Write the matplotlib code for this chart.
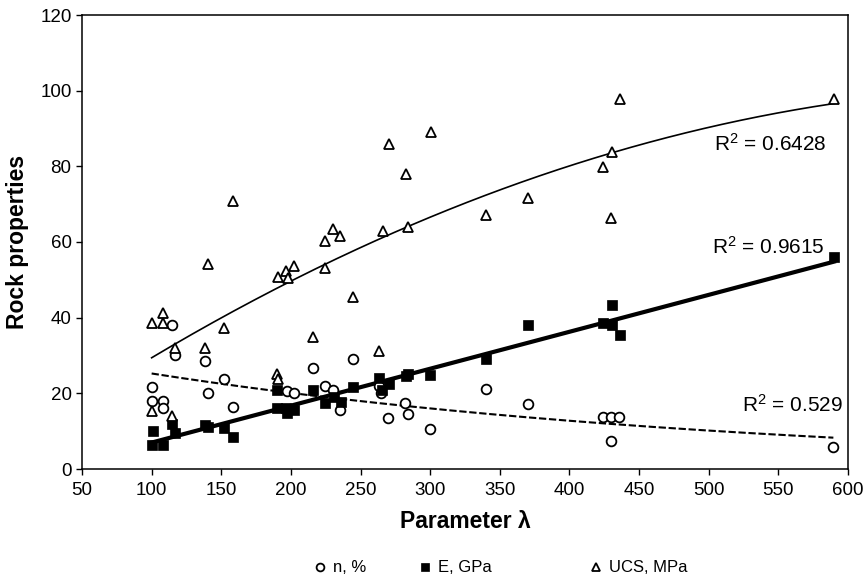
import numpy as np
import matplotlib
matplotlib.use('Agg')
import matplotlib.pyplot as plt

plt.rcParams['font.family'] = ['Liberation Sans', 'DejaVu Sans']
plt.rcParams['mathtext.fontset'] = 'custom'
plt.rcParams['mathtext.rm'] = 'Liberation Sans'
plt.rcParams['mathtext.it'] = 'Liberation Sans:italic'
plt.rcParams['mathtext.bf'] = 'Liberation Sans:bold'

# ---- data ----
n_x = [100, 100, 108.4, 108.4, 114.4, 116.8, 138.3, 140.7, 152.2, 158.2,
       197.0, 202.5, 216.1, 224.5, 230.5, 235.3, 244.8, 263.5, 264.5, 270.0,
       281.9, 284.3, 299.9, 340.1, 370.0, 423.9, 429.8, 435.8, 429.8, 589.5]
n_y = [21.8, 18.1, 18.1, 16.0, 38.1, 30.1, 28.6, 20.0, 23.8, 16.5,
       20.7, 20.0, 26.6, 21.9, 20.9, 15.6, 29.1, 21.9, 20.0, 13.5,
       17.5, 14.5, 10.5, 21.1, 17.2, 13.7, 13.7, 13.8, 7.5, 5.9]

E_x = [100.7, 100, 108.4, 114.4, 116.8, 138.3, 140.7, 152.2, 158.7,
       190.2, 190.2, 196.5, 197.0, 202.2, 216.1, 224.5, 231.0, 236.0, 244.8,
       263.5, 265.5, 270.5, 282.6, 284.0, 299.9, 340.1, 370.0, 423.9, 430.3,
       430.3, 436.3, 590.0]
E_y = [10.0, 6.3, 6.3, 11.9, 9.6, 11.6, 11.2, 10.8, 8.4,
       20.9, 16.0, 16.0, 14.7, 15.6, 20.9, 17.4, 19.1, 17.8, 21.6,
       24.0, 21.0, 22.5, 24.6, 25.0, 24.8, 29.0, 38.1, 38.7, 43.3,
       38.1, 35.4, 56.1]

UCS_x = [100, 108.4, 108.4, 116.8, 138.3, 140.7, 152.2, 158.7, 100, 114.4,
         190.2, 190.5, 190.5, 196.5, 198.1, 202.4, 216.1, 224.5, 224.5, 230.5,
         235.3, 244.8, 263.5, 266.4, 270.7, 282.4, 284.4, 300.4, 340.0, 370.0,
         423.9, 430.3, 429.8, 436.3, 590.0]
UCS_y = [38.5, 41.2, 38.5, 31.9, 31.9, 54.2, 37.4, 70.9, 15.2, 14.0,
         25.2, 23.8, 50.8, 52.4, 50.6, 53.7, 35.0, 53.0, 60.3, 63.4,
         61.6, 45.5, 31.3, 63.0, 85.8, 78.0, 63.9, 89.0, 67.1, 71.5,
         79.9, 83.9, 66.3, 97.8, 97.8]

r2_labels = ["R$^{2}$ = 0.6428", "R$^{2}$ = 0.9615", "R$^{2}$ = 0.529"]
series_names = ["n, %", "E, GPa", "UCS, MPa"]
x_ticks = list(range(50, 601, 50))
y_ticks = list(range(0, 121, 20))

# ---- figure ----
W, H = 868, 581
fig = plt.figure(figsize=(W / 100, H / 100), dpi=100)
ax = fig.add_axes([82 / W, 1 - 469 / H, (848 - 82) / W, (469 - 15) / H])

mew = 1.3
h_n, = ax.plot(n_x, n_y, linestyle='none', marker='o', ms=7, mfc='white',
               mec='black', mew=mew, zorder=3)
h_E, = ax.plot(E_x, E_y, linestyle='none', marker='s', ms=7.5, mfc='black',
               mec='black', mew=0.5, zorder=3)
h_U, = ax.plot(UCS_x, UCS_y, linestyle='none', marker='^', ms=7.5, mfc='white',
               mec='black', mew=mew, zorder=3)

# trend lines
xu = np.linspace(min(UCS_x), max(UCS_x), 300)
cu = np.polyfit(UCS_x, UCS_y, 2)
ax.plot(xu, np.polyval(cu, xu), color='black', lw=1.2, zorder=2)

xe = np.linspace(min(E_x), max(E_x), 300)
ce = np.polyfit(E_x, E_y, 1)
ax.plot(xe, np.polyval(ce, xe), color='black', lw=3.0, zorder=2)

xn = np.linspace(min(n_x), max(n_x), 300)
cn = np.polyfit(n_x, np.log(n_y), 1)
ax.plot(xn, np.exp(np.polyval(cn, xn)), color='black', lw=1.5,
        linestyle=(0, (3.5, 1.3)), zorder=2)

ax.set_xlim(50, 600)
ax.set_ylim(0, 120)
ax.set_xticks(x_ticks)
ax.set_yticks(y_ticks)
ax.tick_params(axis='both', direction='out', length=4.5, width=1.0,
               labelsize=13.5, color='black')
ax.tick_params(axis='x', pad=5)
ax.tick_params(axis='y', pad=3)
for s in ax.spines.values():
    s.set_linewidth(1.1)
    s.set_color('black')

ax.set_xlabel("Parameter λ", fontsize=16.5, fontweight='bold', labelpad=8)
ax.set_ylabel("Rock properties", fontsize=16.5, fontweight='bold', labelpad=8)

# R^2 annotations
ax.text(544, 85.9, r2_labels[0], fontsize=15, ha='center', va='center')
ax.text(542.6, 58.7, r2_labels[1], fontsize=15, ha='center', va='center')
ax.text(559.8, 16.9, r2_labels[2], fontsize=15, ha='center', va='center')

# legend entries
leg_y = 1 - 568 / H
for h, name, xpx in zip([h_n, h_E, h_U], series_names, [313, 418, 589]):
    fig.legend(handles=[h], labels=[name], loc='center left',
               bbox_to_anchor=(xpx / W, leg_y), frameon=False,
               fontsize=12, handlelength=0.8, handletextpad=0.4,
               borderpad=0, borderaxespad=0, markerscale=0.8)

fig.savefig('out.png', dpi=100)
